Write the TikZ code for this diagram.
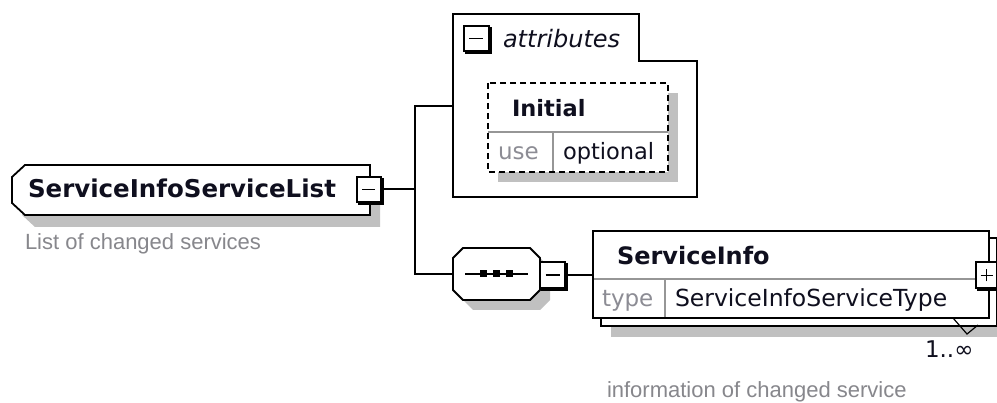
\documentclass[tikz,border=0pt]{standalone}
\usepackage{fontspec}
\setmainfont{DejaVu Sans}
\newfontfamily\descfont{Liberation Sans}
\usetikzlibrary{calc}
\definecolor{shadowgray}{RGB}{192,192,192}
\definecolor{labelgray}{RGB}{140,140,148}
\definecolor{descgray}{RGB}{135,135,140}
\definecolor{divgray}{RGB}{150,150,150}
\definecolor{textdark}{RGB}{15,15,30}
\newcommand{\fs}[1]{\fontsize{#1}{#1}\selectfont}
\begin{document}
\begin{tikzpicture}[x=1pt,y=-1pt,line join=miter,
  outline/.style={draw=black,line width=1.8pt,fill=white},
  shadowfill/.style={fill=shadowgray,draw=none},
  wire/.style={draw=black,line width=2pt},
  divider/.style={draw=divgray,line width=1.3pt},
  togglebox/.style={draw=black,line width=2pt,fill=white,minimum width=24pt,minimum height=25pt,inner sep=0pt,outer sep=0pt,
    preaction={draw=black,line width=2pt,transform canvas={xshift=2pt,yshift=-2pt}}},
  sign/.style={draw=black,line width=1.8pt},
  box/.style={inner sep=0pt,outer sep=0pt,draw=none},
  txt/.style={inner sep=0pt,outer sep=0pt,anchor=base west,text=textdark},
  lbl/.style={inner sep=0pt,outer sep=0pt,anchor=base west,text=labelgray},
  desc/.style={inner sep=0pt,outer sep=0pt,anchor=base west,text=descgray,font=\descfont\fs{22}}]
\useasboundingbox (0,0) rectangle (997,403);
\fill[white] (0,0) rectangle (997,403);

% ---------- root element ----------
\node[box,minimum width=358pt,minimum height=50pt] (elem) at (191,190) {};
\fill[shadowfill,shift={(10,12)}] (25,165) -- (370,165) -- (370,215) -- (25,215) -- (12,203) -- (12,177) -- cycle;
\path[outline] (25,165) -- (370,165) -- (370,215) -- (25,215) -- (12,203) -- (12,177) -- cycle;
\node[txt,font=\bfseries\fs{24.5}] (elemname) at (28,198) {ServiceInfoServiceList};
\node[desc] (elemdesc) at (25,250) {List of changed services};
\node[togglebox] (mroot) at (368.5,189.5) {};
\draw[sign] ([xshift=-6.5pt]mroot.center) -- ([xshift=6.5pt]mroot.center);

% ---------- attributes ----------
\path[outline,line width=2pt] (453,14) -- (639,14) -- (639,61) -- (697,61) -- (697,197) -- (453,197) -- cycle;
\coordinate (attrin) at (453,106);
\node[togglebox,minimum width=25pt,minimum height=25pt] (mattr) at (476,38.5) {};
\draw[sign] ([xshift=-7pt]mattr.center) -- ([xshift=7pt]mattr.center);
\node[txt,font=\itshape\fs{24}] (attrtitle) at (503,48) {attributes};

\node[box,minimum width=180pt,minimum height=89pt] (initial) at (578,127.5) {};
\fill[shadowfill] (498,93) rectangle (678,182);
\fill[white] (initial.north west) rectangle (initial.south east);
\draw[divider] (488,132) -- (668,132);
\draw[divider] (553,132) -- (553,172);
\draw[black,line width=1.8pt,dash pattern=on 6pt off 4pt] (initial.north west) rectangle (initial.south east);
\node[txt,font=\bfseries\fs{22.5}] (initialname) at (512,117) {Initial};
\node[lbl,font=\fs{23}] (uselbl) at (498,160) {use};
\node[txt,font=\fs{22.5}] (useval) at (563,160) {optional};

% ---------- sequence ----------
\node[box,minimum width=87pt,minimum height=52pt] (seq) at (496.5,274) {};
\fill[shadowfill,shift={(10,10)}] (463,248) -- (530,248) -- (540,258) -- (540,290) -- (530,300) -- (463,300) -- (453,290) -- (453,258) -- cycle;
\path[outline] (463,248) -- (530,248) -- (540,258) -- (540,290) -- (530,300) -- (463,300) -- (453,290) -- (453,258) -- cycle;
\draw[black,line width=1.8pt] (465,274) -- (528,274);
\foreach \cx in {483.5,496.5,509.5} \fill[black] (\cx-3.5,270.5) rectangle (\cx+3.5,277.5);
\node[togglebox,minimum width=25pt,minimum height=26pt] (mseq) at (552.5,275) {};
\draw[sign] ([xshift=-7pt]mseq.center) -- ([xshift=7pt]mseq.center);

% ---------- ServiceInfo ----------
\fill[shadowfill] (611,248) rectangle (1007,337);
\path[outline] (601,238) rectangle (997,326);
\node[box,minimum width=396pt,minimum height=87pt] (si) at (791,274.5) {};
\path[outline] (si.north west) rectangle (si.south east);
\draw[divider] (594,279) -- (988,279);
\draw[divider] (665,279) -- (665,317);
\node[txt,font=\bfseries\fs{24}] (siname) at (617,265) {ServiceInfo};
\node[lbl,font=\fs{23}] (silbl) at (602,307) {type};
\node[txt,font=\fs{23.5}] (sitype) at (675,307) {ServiceInfoServiceType};
\node[togglebox,minimum width=21pt,minimum height=26pt] (psi) at (986.5,275.5) {};
\draw[sign] ([xshift=-6pt]psi.center) -- ([xshift=6pt]psi.center);
\draw[sign] ([yshift=-6pt]psi.center) -- ([yshift=6pt]psi.center);
\draw[black,line width=1.2pt] (953,318) -- (967,334) -- (978,325);
\node[txt,font=\fs{23}] (card) at (925,358) {1..∞};
\node[desc] (sidesc) at (607,398) {information of changed service};

% ---------- connectors ----------
\coordinate (jt) at (415,106);
\coordinate (jb) at (415,274);
\draw[wire] (mroot.east) -- (mroot.east -| jt);
\draw[wire] (attrin) -- (jt) -- (jb) -- (seq.west);
\draw[wire] (mseq.east) -- (mseq.east -| si.west);
\end{tikzpicture}
\end{document}
